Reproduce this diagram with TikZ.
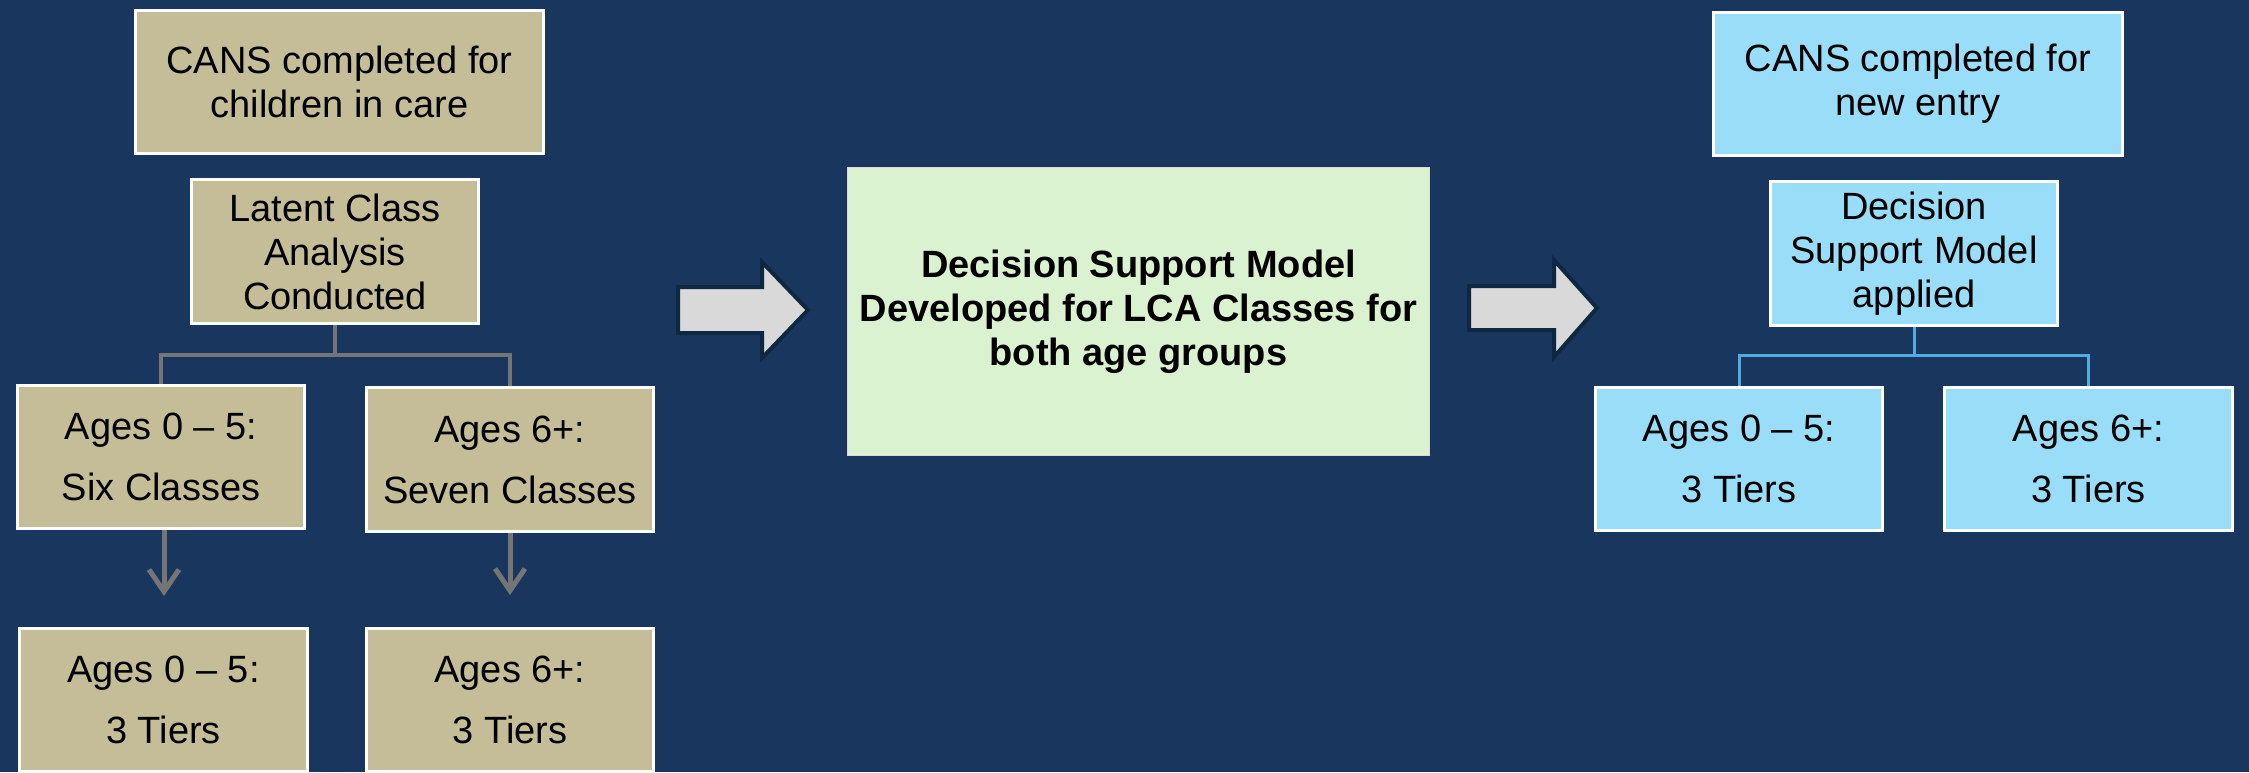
\documentclass[tikz,border=0pt]{standalone}
\usepackage{fontspec}
\setmainfont{Liberation Sans}
\usetikzlibrary{arrows.meta,calc}
\definecolor{bg}{RGB}{25,54,94}
\definecolor{tanfill}{RGB}{196,189,151}
\definecolor{lblue}{RGB}{153,221,248}
\definecolor{lgreen}{RGB}{218,242,208}
\definecolor{agray}{RGB}{217,217,217}
\definecolor{aedge}{RGB}{14,40,65}
\definecolor{cgray}{RGB}{117,117,117}
\definecolor{cblue}{RGB}{80,172,226}
\tikzset{
 box/.style={draw=white, line width=3pt, inner sep=0pt, align=center, text=black, font=\fontsize{38}{44}\selectfont},
 tanbox/.style={box, fill=tanfill},
 bluebox/.style={box, fill=lblue},
 tall/.style={font=\fontsize{38}{61}\selectfont},
 conn/.style={draw=cgray, line width=3.5pt},
 bconn/.style={draw=cblue, line width=3pt},
 garrow/.style={draw=cgray, line width=5pt, -{Straight Barb[length=22pt,width=30pt]}},
 blockarrow/.style={fill=agray, draw=aedge, line width=4pt, line join=miter},
}
\begin{document}
\begin{tikzpicture}[x=1pt, y=-1pt]
\useasboundingbox (0,0) rectangle (2249,772);
\fill[bg] (0,0) rectangle (2249,772);
\clip (0,0) rectangle (2249,772);

% left column
\node[tanbox, minimum width=408pt, minimum height=143pt] (A) at (339.5,82) {CANS completed for\\children in care};
\node[tanbox, minimum width=287pt, minimum height=144pt] (B) at (335,251.5) {Latent Class\\Analysis\\Conducted};
\node[tanbox, tall, minimum width=287pt, minimum height=143pt] (C) at (161,457) {Ages 0 \textendash{} 5:\\Six Classes};
\node[tanbox, tall, minimum width=287pt, minimum height=144pt] (D) at (510,459.5) {Ages 6+:\\Seven Classes};
\node[tanbox, tall, minimum width=288pt, minimum height=143pt] (E) at (163.5,700) {Ages 0 \textendash{} 5:\\3 Tiers};
\node[tanbox, tall, minimum width=287pt, minimum height=143pt] (F) at (510,700) {Ages 6+:\\3 Tiers};

\draw[conn] (B.south) -- ++(0,30) coordinate (bj) -| (C.north);
\draw[conn] (bj) -| (D.north);
\draw[garrow] ([xshift=3pt]C.south) -- ($([xshift=3pt]C.south)!0.68!([xshift=3pt]C.south |- E.north)$) coordinate (ce);
\draw[garrow] (D.south) -- ($(D.south)!0.66!(F.north)$) coordinate (df);

% middle
\node[draw=black!15, line width=1.5pt, fill=lgreen, inner sep=0pt, align=center, text=black,
      font=\fontsize{38}{44}\selectfont\bfseries, minimum width=582pt, minimum height=288pt] (G) at (1138.5,311.5)
      {Decision Support Model\\Developed for LCA Classes for\\both age groups};

% block arrows
\draw[blockarrow] (678,287) -- (762,287) -- (762,262) -- (808,310) -- (762,358) -- (762,333) -- (678,333) -- cycle;
\draw[blockarrow] (1469,286) -- (1554,286) -- (1554,260) -- (1597,308) -- (1554,357) -- (1554,330) -- (1469,330) -- cycle;

% right column
\node[bluebox, minimum width=409pt, minimum height=143pt] (H) at (1918,84) {CANS completed for\\new entry};
\node[bluebox, minimum width=287pt, minimum height=144pt] (I) at (1914,253.5) {Decision\\Support Model\\applied};
\node[bluebox, tall, minimum width=287pt, minimum height=143pt] (J) at (1739,459) {Ages 0 \textendash{} 5:\\3 Tiers};
\node[bluebox, tall, minimum width=288pt, minimum height=143pt] (K) at (2088.5,459) {Ages 6+:\\3 Tiers};

\draw[bconn] (I.south) -- ++(0,28) coordinate (ij) -| (J.north);
\draw[bconn] (ij) -| (K.north);
\end{tikzpicture}
\end{document}
